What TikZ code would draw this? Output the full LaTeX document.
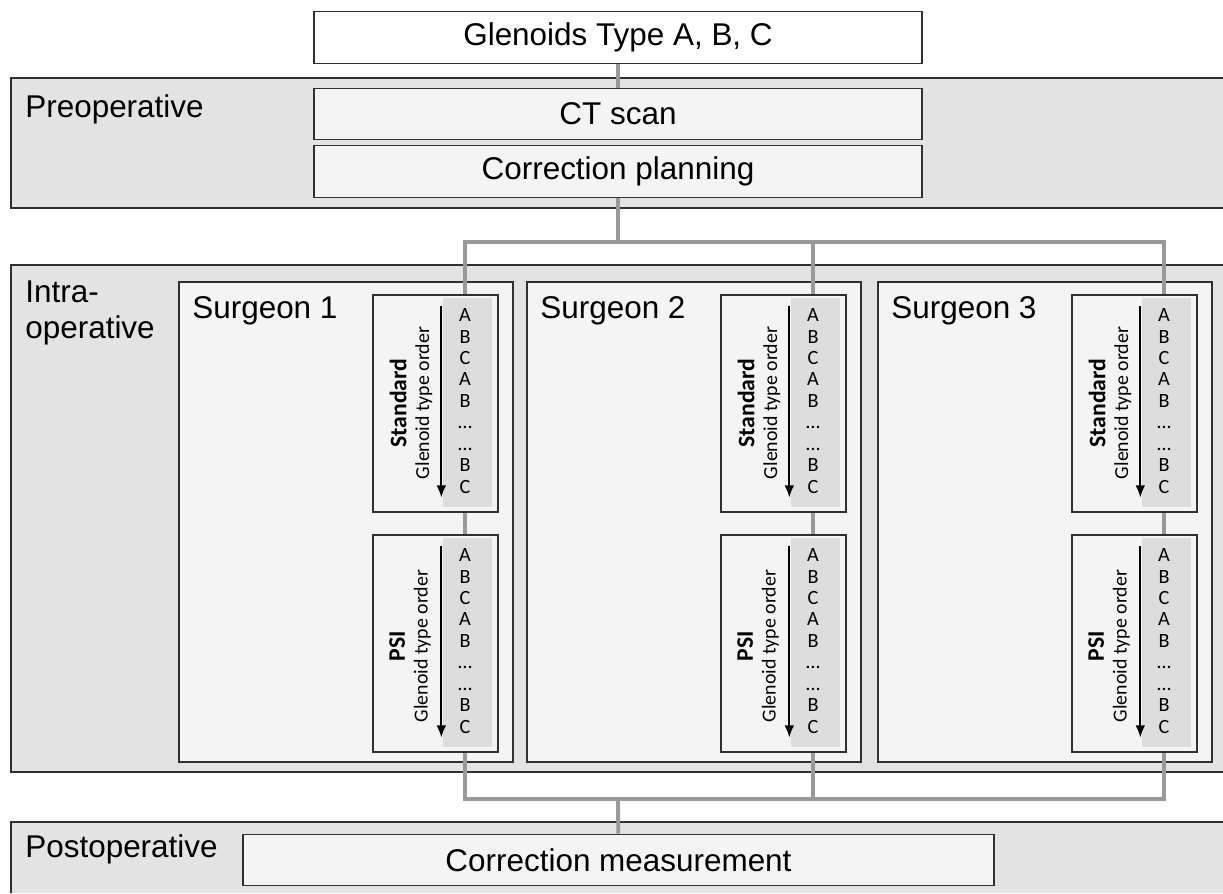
\documentclass[tikz,border=0pt]{standalone}
\usepackage{fontspec}
\setmainfont{Liberation Sans}
\newfontfamily\calibri{Carlito}
\usepackage{xcolor}
\definecolor{band_gray}{HTML}{E3E3E3}
\definecolor{box_gray}{HTML}{F4F4F4}
\definecolor{col_gray}{HTML}{DDDDDD}
\definecolor{conn_gray}{HTML}{999999}
\definecolor{line_gray}{HTML}{303030}
\usetikzlibrary{arrows.meta,positioning,calc}

\begin{document}
\begin{tikzpicture}[x=0.02cm, y=-0.02cm]
\tikzset{
    frame/.style={draw=line_gray, line width=0.8pt},
    box/.style={frame, fill=box_gray, inner sep=0pt, minimum width=12.16cm,
        minimum height=1.03cm, font=\fontsize{17.9}{20}\selectfont},
    bandlabel/.style={anchor=base west, inner sep=0pt, align=left,
        font=\fontsize{17.9}{20.4}\selectfont},
    surgeon/.style={frame, fill=box_gray, minimum width=6.68cm, minimum height=9.6cm},
    order/.style={frame, fill=box_gray, minimum width=2.5cm, minimum height=4.34cm},
    column/.style={fill=col_gray, inner sep=0pt, minimum width=0.98cm, minimum height=4.18cm},
    letters/.style={align=center, inner sep=0pt, font=\calibri\fontsize{11.5}{12.2}\selectfont},
    kind/.style={rotate=90, align=center, inner sep=0pt, font=\calibri\fontsize{11.3}{13}\selectfont},
    conn/.style={draw=conn_gray, line width=2.2pt},
    edge/.style={->, > = {Latex[length=7pt,width=5.5pt]}, line width=1.2pt}
}
\useasboundingbox (0,0) rectangle (1223,893);
% bands
\fill[band_gray] (11,78) rectangle (1223,208);
\draw[frame] (1223,78) -| (11,208) -- (1223,208);
\fill[band_gray] (11,265) rectangle (1223,772);
\draw[frame] (1223,265) -| (11,772) -- (1223,772);
\fill[band_gray] (11,822) rectangle (1223,893);
\draw[frame] (1223,822) -| (11,893);
\node[bandlabel] (pre) at (25,117) {Preoperative};
\node[bandlabel] (intra) at (25,338) {Intra-\\operative};
\node[bandlabel] (post) at (25,857) {Postoperative};
% boxes
\node[box, fill=white] (glen) at (618,37.5) {Glenoids Type A, B, C};
\node[box] (ct) at (618,114) {CT scan};
\node[box] (plan) at (618,171.5) {Correction planning};
\node[box, minimum width=15.02cm] (meas) at (618.5,860) {Correction measurement};
% surgeons
\foreach \s/\x in {1/179, 2/527, 3/878} {
  \node[surgeon] (surg\s) at (\x+167,522) {};
  \node[bandlabel] (name\s) at (\x+13,318) {Surgeon \s};
  \node[order] (std\s) at (\x+256.5,403.5) {};
  \node[column] (stdcol\s) at (\x+288.5,402.5) {};
  \node[letters] (stdabc\s) at (\x+286,401) {A\\B\\C\\A\\B\\\ldots\\\ldots\\B\\C};
  \node[kind] (stdtxt\s) at (\x+232,403) {{\fontsize{13.5}{13}\selectfont\bfseries Standard}\\Glenoid type order};
  \draw[edge] ($(std\s.north west)+(69,12)$) -- ($(std\s.south west)+(69,-15)$);
  \node[order] (psi\s) at (\x+256.5,643.5) {};
  \node[column] (psicol\s) at (\x+288.5,642.5) {};
  \node[letters] (psiabc\s) at (\x+286,641) {A\\B\\C\\A\\B\\\ldots\\\ldots\\B\\C};
  \node[kind] (psitxt\s) at (\x+231,646) {{\fontsize{13.5}{13}\selectfont\bfseries PSI}\\Glenoid type order};
  \draw[edge] ($(psi\s.north west)+(69,12)$) -- ($(psi\s.south west)+(69,-15)$);
}
% connectors
\coordinate (topbus) at (618,242);
\coordinate (botbus) at (618,799);
\draw[conn] (glen) -- (ct);
\draw[conn] (plan) -- (topbus);
\draw[conn] (std1.north -| stdabc1) |- (topbus) -| (std3.north -| stdabc3);
\draw[conn] (std2.north -| stdabc2) -- (stdabc2 |- topbus);
\foreach \s in {1,2,3}
  \draw[conn] (std\s.south -| stdabc\s) -- (psi\s.north -| stdabc\s);
\draw[conn] (psi1.south -| psiabc1) |- (botbus) -| (psi3.south -| psiabc3);
\draw[conn] (psi2.south -| psiabc2) -- (psiabc2 |- botbus);
\draw[conn] (botbus) -- (meas);
\end{tikzpicture}
\end{document}
